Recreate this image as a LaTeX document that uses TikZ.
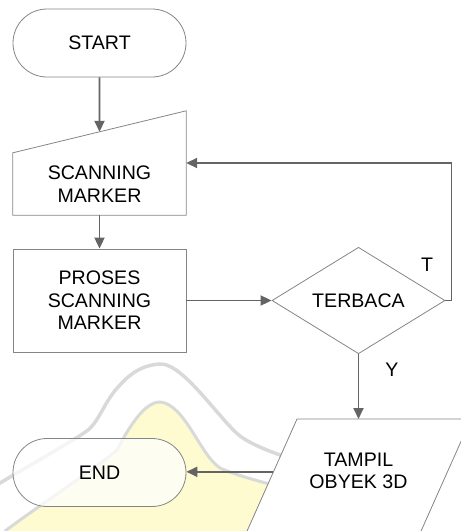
\documentclass[tikz,border=0pt]{standalone}
\usepackage{fontspec}
\setmainfont{Liberation Sans}
\usetikzlibrary{shapes.geometric,arrows.meta,calc}

\definecolor{edgegrey}{HTML}{858585}
\definecolor{arrowgrey}{HTML}{646464}
\definecolor{markyellow}{HTML}{FDFBCF}
\definecolor{markgrey}{HTML}{D9D9D9}

\tikzset{
  lbl/.style={font=\fontsize{19.6}{22.5}\selectfont, align=center, text=black},
  boxline/.style={draw=edgegrey, line width=0.8pt},
  terminal/.style={lbl, boxline, rectangle, rounded corners=34pt,
                   minimum width=173pt, minimum height=68pt, inner sep=0pt},
  procbox/.style={lbl, boxline, rectangle, minimum width=173pt,
                  minimum height=103pt, inner sep=0pt},
  plainbox/.style={lbl, rectangle, draw=none, inner sep=0pt},
  decision/.style={lbl, boxline, diamond, minimum width=173pt,
                   minimum height=103pt, inner sep=0pt},
  flow/.style={draw=arrowgrey, line width=1.8pt,
               -{Triangle[length=11pt,width=10pt]}},
  branch/.style={font=\fontsize{19.6}{22}\selectfont, text=black}
}

\begin{document}
\begin{tikzpicture}[x=1pt,y=-1pt]
  \path[use as bounding box] (0,0) rectangle (461,531);
  \clip (0,0) rectangle (461,531);

  % faint background emblem
  \fill[markyellow] (0,531) -- (5,531) .. controls (40,505) and (100,465) .. (117,450)
      .. controls (130,425) and (145,402) .. (160,402)
      .. controls (185,404) and (200,455) .. (220,468)
      .. controls (240,477) and (270,484) .. (300,492) -- (300,531) -- cycle;
  \draw[markgrey, line width=3pt, line cap=round]
      (5,531) .. controls (40,505) and (100,465) .. (117,450)
      .. controls (130,425) and (145,402) .. (160,402)
      .. controls (185,404) and (200,455) .. (220,468)
      .. controls (240,477) and (270,484) .. (300,492);
  \draw[markgrey, line width=3.5pt, line cap=round]
      (-5,486) .. controls (30,465) and (75,440) .. (88,430)
      .. controls (100,420) and (105,400) .. (120,385)
      .. controls (135,368) and (150,364) .. (162,364)
      .. controls (185,366) and (220,420) .. (240,436)
      .. controls (255,447) and (280,455) .. (300,462);

  % nodes
  \node[terminal] (start) at (99.5,43) {START};
  \node[plainbox, minimum width=173pt, minimum height=62pt] (scan) at (99.5,184)
      {SCANNING\\MARKER};
  \draw[boxline] (scan.north west) -- ([yshift=42pt]scan.north east)
      -- (scan.south east) -- (scan.south west) -- cycle;
  \coordinate (scantop) at ($(scan.north west)!0.5!([yshift=42pt]scan.north east)$);
  \coordinate (scanright) at ([yshift=21pt]scan.east);

  \node[procbox] (proc) at (99.5,300.5) {PROSES\\SCANNING\\MARKER};
  \node[decision] (dec) at (358.5,300.5) {TERBACA};

  % output parallelogram, running past the lower and right borders
  \coordinate (outtl) at (297,419);
  \coordinate (outtr) at (471,419);
  \coordinate (outbr) at (417.5,539);
  \coordinate (outbl) at (243.5,539);
  \fill[white] (outtl) -- (outtr) -- (outbr) -- (outbl) -- cycle;
  \node[plainbox, minimum width=120pt, minimum height=50pt] (out) at (358.5,471)
      {TAMPIL\\OBYEK 3D};
  \draw[boxline] (outtl) -- (outtr) -- (outbr) -- (outbl) -- cycle;
  \coordinate (outtop) at (358.5,419);
  \coordinate (outleft) at ($(outtl)!0.44!(outbl)$);

  \node[terminal, fill=white, fill opacity=0.75, text opacity=1] (end)
      at (99.5,472.5) {END};

  % connectors
  \draw[flow] (start) -- (scantop);
  \draw[flow] (scan) -- (proc);
  \draw[flow] (proc) -- (dec);
  \draw[flow, -] (dec.east) -- ++(6,0) coordinate (loopcorner);
  \draw[flow] (loopcorner) |- (scanright);
  \draw[flow] (dec.south) -- (outtop);
  \draw[flow] (outleft) -- (end.east |- outleft);

  % branch labels
  \node[branch] (tlabel) at (427,265) {T};
  \node[branch] (ylabel) at (392,370) {Y};
\end{tikzpicture}
\end{document}
